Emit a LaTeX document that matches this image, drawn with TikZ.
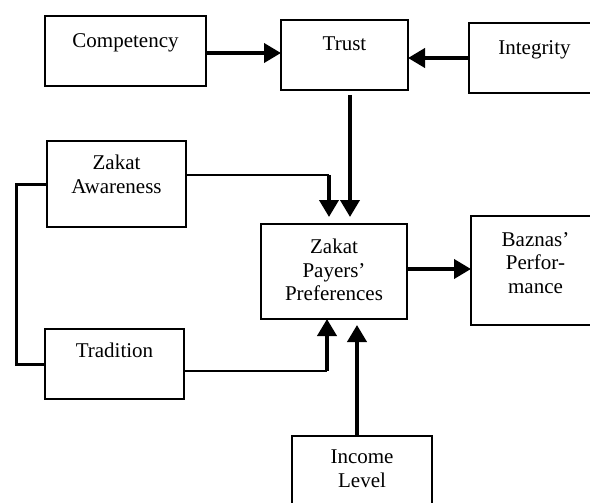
\documentclass[tikz,border=0pt]{standalone}
\usepackage{fontspec}
\setmainfont{Liberation Serif}
\usetikzlibrary{arrows.meta}
\tikzset{
  box/.style={draw, line width=1.4pt, inner sep=0pt, outer sep=0pt},
  lab/.style={anchor=north, inner sep=0pt, align=center},
  heavy/.style={line width=4pt, -{Triangle[length=17pt,width=19pt]}},
  link/.style={line width=1.4pt},
  bracket/.style={line width=3pt}
}

\begin{document}
\begin{tikzpicture}[x=1pt, y=-1pt, font=\fontsize{21}{23.5}\selectfont]
\useasboundingbox (0,0) rectangle (590,503);
% boxes
\node[box, minimum width=161pt, minimum height=70pt,
  label={[lab, yshift=-17pt]north:Competency}] (comp) at (125.5,51) {};
\node[box, minimum width=127pt, minimum height=70pt,
  label={[lab, yshift=-17pt]north:Trust}] (trust) at (344.5,55) {};
\node[box, minimum width=131pt, minimum height=70pt,
  label={[lab, yshift=-17pt]north:Integrity}] (integ) at (534.5,58) {};
\node[box, minimum width=139pt, minimum height=86pt,
  label={[lab, yshift=-14pt]north:Zakat\\Awareness}] (aware) at (116.5,184) {};
\node[box, minimum width=146pt, minimum height=95pt,
  label={[lab, yshift=-15pt]north:Zakat\\Payers’\\Preferences}] (pref) at (334,271.5) {};
\node[box, minimum width=139pt, minimum height=70pt,
  label={[lab, yshift=-14pt]north:Tradition}] (trad) at (114.5,364) {};
\node[box, minimum width=129pt, minimum height=109pt,
  label={[lab, yshift=-16pt]north:Baznas’\\Perfor-\\mance}] (baz) at (535.5,270.5) {};
\node[box, minimum width=140pt, minimum height=84pt,
  label={[lab, yshift=-14pt]north:Income\\Level}] (inc) at (362,478) {};
% helper points
\coordinate (ce) at ([yshift=-2pt]comp.east);
\coordinate (pe) at ([yshift=2.5pt]pref.east);
\coordinate (ptop) at ([yshift=7pt]pref.north);
\coordinate (pl) at ([xshift=-5pt]pref.north);
\coordinate (pb) at ([xshift=-7pt]pref.south);
\coordinate (pbi) at ([yshift=-6pt]pref.south);
\coordinate (aw) at ([yshift=9pt]aware.east);
\coordinate (tr) at ([yshift=-7pt]trad.east);
% connectors
\draw[heavy] (ce) -- (ce -| trust.west);
\draw[heavy] (integ.west) -- (integ.west -| trust.east);
\draw[heavy] ([xshift=5.5pt,yshift=-5pt]trust.south) coordinate (t1) -- (t1 |- ptop);
\draw[link] (aw) -- (aw -| pl);
\draw[heavy] (aw -| pl) -- (pl |- ptop);
\draw[link] (tr) -- (tr -| pb);
\draw[heavy] (tr -| pb) -- (pb);
\draw[heavy] ([xshift=-5pt]inc.north) coordinate (i1) -- (i1 |- pbi);
\draw[heavy] (pe) -- (pe -| baz.west);
\draw[bracket] (aware.west) -- ++(-31,0) |- (trad.west);
\end{tikzpicture}
\end{document}
